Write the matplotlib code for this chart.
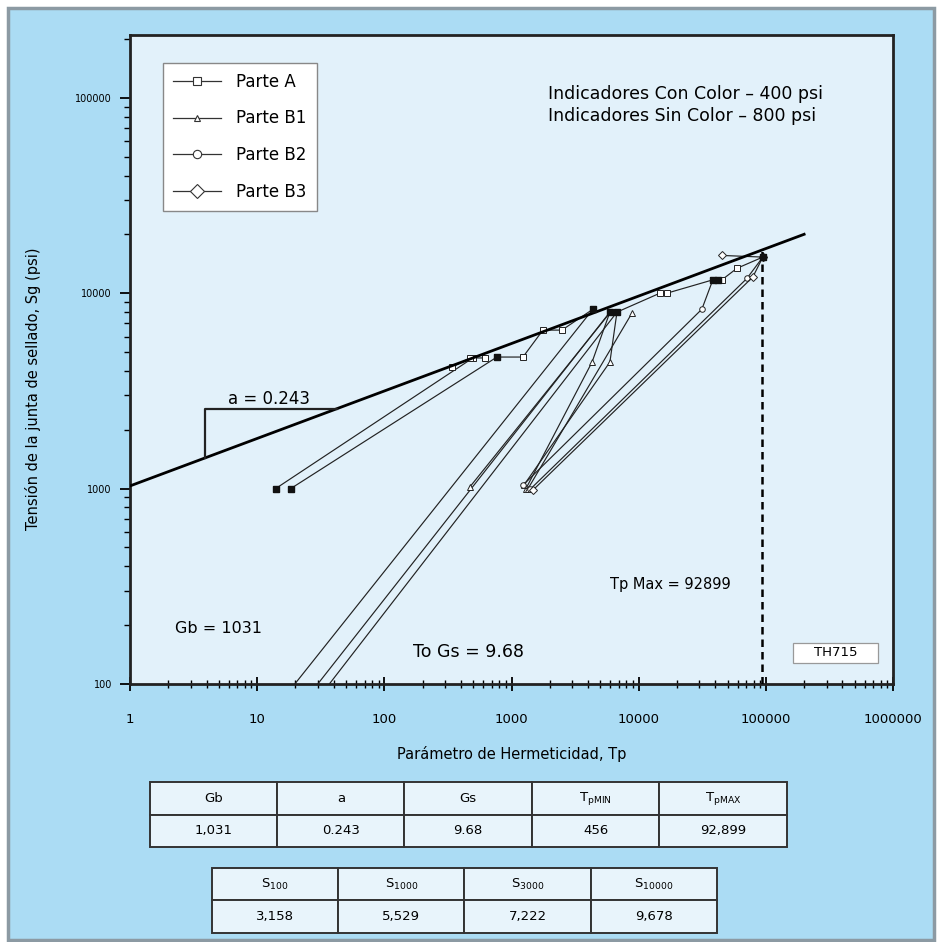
import numpy as np
import matplotlib
matplotlib.use("Agg")
import matplotlib.pyplot as plt
from matplotlib.patches import Rectangle
from matplotlib.lines import Line2D
from matplotlib.ticker import LogLocator, FixedLocator, FixedFormatter, NullFormatter

plt.rcParams['font.family'] = ['DejaVu Sans']

# fit parameters
Gb = 1031
a = 0.243
Gs = 9.68
Tp_max = 92899

# Parte A (open squares)
a1_tp = [14, 497, 618]
a1_sg = [1000, 4660, 4660]
a2_tp = [18.4, 768, 1230, 1766, 2490, 4370]
a2_sg = [1000, 4710, 4710, 6470, 6470, 8280]
a3_tp = [340, 473]
a3_sg = [4180, 4660]
a4_tp = [6750, 14700, 16700, 38300, 45100, 59200, 94700]
a4_sg = [8000, 10000, 10000, 11700, 11700, 13400, 15300]

# filled (colour indicator) points
filled_tp = [14, 18.4, 768, 4370, 5940, 6750, 38300, 42000, 94700]
filled_sg = [1000, 1000, 4710, 8280, 8000, 8000, 11700, 11700, 15300]

# unloading lines extrapolated down to 100 psi
g1_tp = [4370, 19.8]
g1_sg = [8280, 100]
g2_tp = [5940, 30]
g2_sg = [8000, 100]
g3_tp = [6750, 37]
g3_sg = [8000, 100]

# Parte B1 (triangles)
b1_1_tp = [471, 6000]
b1_1_sg = [1020, 8000]
b1_2_tp = [1300, 4300, 5940]
b1_2_sg = [1000, 4440, 8000]
b1_3_tp = [1250, 5940, 6750]
b1_3_sg = [1040, 4440, 8000]
b1_4_tp = [1350, 8850]
b1_4_sg = [1000, 7900]

# Parte B2 (circles)
b2_1_tp = [1230, 31400, 38300]
b2_1_sg = [1040, 8280, 11700]
b2_2_tp = [1400, 71000, 94700]
b2_2_sg = [990, 11900, 15300]

# Parte B3 (diamonds)
b3_1_tp = [1470, 79000, 94700]
b3_1_sg = [980, 12100, 15300]
b3_2_tp = [45100, 94700]
b3_2_sg = [15600, 15300]

# tables
t1_head = ['Gb', 'a', 'Gs', r'T$_{\mathrm{pMIN}}$', r'T$_{\mathrm{pMAX}}$']
t1_vals = ['1,031', '0.243', '9.68', '456', '92,899']
t2_head = [r'S$_{100}$', r'S$_{1000}$', r'S$_{3000}$', r'S$_{10000}$']
t2_vals = ['3,158', '5,529', '7,222', '9,678']

x_ticks = [1, 10, 100, 1000, 10000, 100000, 1000000]
y_ticks = [100, 1000, 10000, 100000]

outer_bg = '#abdcf4'
inner_bg = '#e2f1fa'

fig = plt.figure(figsize=(9.42, 9.42), dpi=100)
fig.patch.set_facecolor('white')
fig.add_artist(Rectangle((0.009, 0.002), 0.983, 0.989, transform=fig.transFigure,
                         facecolor=outer_bg, edgecolor='#8c9aa3', lw=2.5, zorder=0))

ax = fig.add_axes([0.138, 0.274, 0.810, 0.689])
ax.set_facecolor(inner_bg)
ax.set_xscale('log')
ax.set_yscale('log')
ax.set_xlim(1, 1e6)
ax.set_ylim(100, 2.1e5)

# fit line and slope triangle
xf = np.array([1, 2e5])
ax.plot(xf, Gb * xf ** a, color='black', lw=2.0, zorder=4)
x_tri0 = 3.9
y_tri = 2560
x_tri1 = (y_tri / Gb) ** (1 / a)
ax.plot([x_tri0, x_tri0, x_tri1], [Gb * x_tri0 ** a, y_tri, y_tri], color='#222', lw=1.6, zorder=4)
ax.text(5.9, y_tri * 1.015, 'a = 0.243', fontsize=12, va='bottom', ha='left')

# dashed Tp max
ax.plot([Tp_max, Tp_max], [100, Gb * Tp_max ** a], color='black', lw=1.8, ls=(0, (3, 2)), zorder=4)

lw = 0.85
mk = dict(markersize=4, markerfacecolor='white', markeredgecolor='#222', markeredgewidth=0.7)
for xs, ys in [(a1_tp, a1_sg), (a2_tp, a2_sg), (a3_tp, a3_sg), (a4_tp, a4_sg)]:
    ax.plot(xs, ys, color='#222', lw=lw, marker='s', **mk)
for xs, ys in [(g1_tp, g1_sg), (g2_tp, g2_sg), (g3_tp, g3_sg)]:
    ax.plot(xs, ys, color='#222', lw=lw)
for xs, ys in [(b1_1_tp, b1_1_sg), (b1_2_tp, b1_2_sg), (b1_3_tp, b1_3_sg), (b1_4_tp, b1_4_sg)]:
    ax.plot(xs, ys, color='#222', lw=lw, marker='^', **mk)
for xs, ys in [(b2_1_tp, b2_1_sg), (b2_2_tp, b2_2_sg)]:
    ax.plot(xs, ys, color='#222', lw=lw, marker='o', **mk)
for xs, ys in [(b3_1_tp, b3_1_sg), (b3_2_tp, b3_2_sg)]:
    ax.plot(xs, ys, color='#222', lw=lw, marker='D', **mk)
ax.plot(filled_tp, filled_sg, ls='none', marker='s', markersize=4, color='#111', zorder=5)

# axes styling
for s in ax.spines.values():
    s.set_linewidth(2.0)
    s.set_color('#222')
ax.xaxis.set_major_locator(FixedLocator(x_ticks))
ax.xaxis.set_major_formatter(FixedFormatter([str(v) for v in x_ticks]))
ax.xaxis.set_minor_locator(LogLocator(base=10, subs=np.arange(2, 10), numticks=20))
ax.xaxis.set_minor_formatter(NullFormatter())
ax.yaxis.set_major_locator(FixedLocator(y_ticks))
ax.yaxis.set_major_formatter(FixedFormatter([str(v) for v in y_ticks]))
ax.yaxis.set_minor_locator(LogLocator(base=10, subs=np.arange(2, 10), numticks=20))
ax.yaxis.set_minor_formatter(NullFormatter())
ax.tick_params(axis='x', which='major', direction='inout', length=10, width=1.3, pad=16, labelsize=9.5)
ax.tick_params(axis='x', which='minor', direction='inout', length=6, width=1.0)
ax.tick_params(axis='y', which='major', direction='out', length=7, width=1.3, pad=6, labelsize=7)
ax.tick_params(axis='y', which='minor', direction='out', length=4, width=1.0)
ax.set_xlabel('Parámetro de Hermeticidad, Tp', fontsize=10.5, labelpad=14)
ax.set_ylabel('Tensión de la junta de sellado, Sg (psi)', fontsize=10.5)
ax.yaxis.set_label_coords(-0.117, 0.4545)

# annotations
ax.text(0.548, 0.892, 'Indicadores Con Color – 400 psi\nIndicadores Sin Color – 800 psi',
        transform=ax.transAxes, fontsize=12.5, va='center', ha='left', linespacing=1.25)
ax.text(2.26, 193, 'Gb = 1031', fontsize=11.5, ha='left', va='center')
ax.text(168, 146, 'To Gs = 9.68', fontsize=12.5, ha='left', va='center')
ax.text(0.629, 0.1525, 'Tp Max = 92899', transform=ax.transAxes, fontsize=10.5, ha='left', va='center')
ax.add_patch(Rectangle((0.869, 0.032), 0.111, 0.031, transform=ax.transAxes,
                       facecolor='white', edgecolor='#999', lw=0.9, zorder=5))
ax.text(0.9245, 0.048, 'TH715', transform=ax.transAxes, fontsize=9.5, ha='center', va='center', zorder=6)

# legend
hkw = dict(color='#333', lw=0.9, markerfacecolor='white', markeredgecolor='#333', markeredgewidth=0.8)
handles = [Line2D([], [], marker='s', markersize=6, **hkw),
           Line2D([], [], marker='^', markersize=5, **hkw),
           Line2D([], [], marker='o', markersize=6, **hkw),
           Line2D([], [], marker='D', markersize=7, **hkw)]
leg = ax.legend(handles, ['Parte A', 'Parte B1', 'Parte B2', 'Parte B3'], loc='upper left',
                bbox_to_anchor=(0.043, 0.957), borderaxespad=0, fontsize=12, fancybox=False,
                framealpha=1, edgecolor='#888', handlelength=2.9, labelspacing=1.12,
                borderpad=0.6, handletextpad=0.9)
leg.get_frame().set_linewidth(1.0)

# tables
def draw_table(rect, head, vals):
    tax = fig.add_axes(rect)
    tax.axis('off')
    tb = tax.table(cellText=[head, vals], cellLoc='center', bbox=[0, 0, 1, 1])
    tb.auto_set_font_size(False)
    for (r, c), cell in tb.get_celld().items():
        cell.set_facecolor('#e8f4fb')
        cell.set_edgecolor('#333')
        cell.set_linewidth(1.4)
        cell.get_text().set_fontsize(9.5)
    return tb

draw_table([0.159, 0.1008, 0.676, 0.069], t1_head, t1_vals)
draw_table([0.225, 0.0096, 0.536, 0.069], t2_head, t2_vals)

fig.savefig('out.png', dpi=100, facecolor=fig.get_facecolor())
